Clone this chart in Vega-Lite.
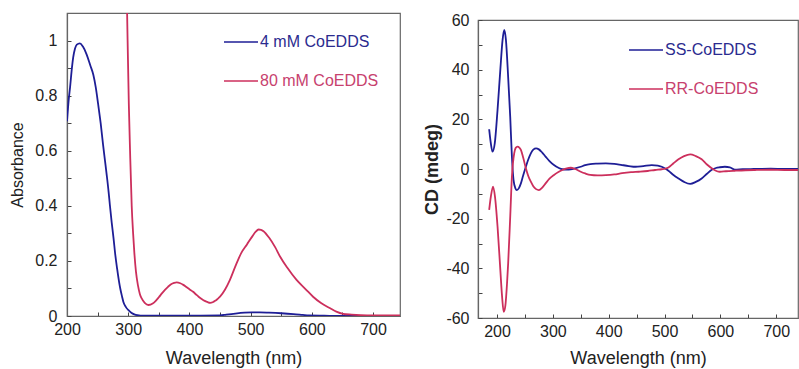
{
  "$schema": "https://vega.github.io/schema/vega-lite/v6.json",
  "padding": {"left": 9, "top": 11, "right": 0, "bottom": 0},
  "background": "white",
  "spacing": 22,
  "config": {
    "font": "Liberation Sans",
    "view": {"stroke": "#666", "strokeWidth": 1.2},
    "axis": {
      "grid": false,
      "labelFontSize": 16,
      "labelColor": "#222",
      "titleColor": "#222",
      "domainColor": "#666",
      "domainWidth": 1.2,
      "tickColor": "#444",
      "tickSize": -4,
      "labelFlush": false,
      "labelOverlap": false
    },
    "legend": {"padding": 0}
  },
  "datasets": {
    "abs": [
      {"wavelength": 200, "absorbance": 0.707, "sample": "4 mM CoEDDS"},
      {"wavelength": 203, "absorbance": 0.79, "sample": "4 mM CoEDDS"},
      {"wavelength": 205, "absorbance": 0.83, "sample": "4 mM CoEDDS"},
      {"wavelength": 208, "absorbance": 0.9, "sample": "4 mM CoEDDS"},
      {"wavelength": 210, "absorbance": 0.937, "sample": "4 mM CoEDDS"},
      {"wavelength": 213, "absorbance": 0.97, "sample": "4 mM CoEDDS"},
      {"wavelength": 216, "absorbance": 0.985, "sample": "4 mM CoEDDS"},
      {"wavelength": 221, "absorbance": 0.99, "sample": "4 mM CoEDDS"},
      {"wavelength": 226, "absorbance": 0.978, "sample": "4 mM CoEDDS"},
      {"wavelength": 232, "absorbance": 0.95, "sample": "4 mM CoEDDS"},
      {"wavelength": 238, "absorbance": 0.91, "sample": "4 mM CoEDDS"},
      {"wavelength": 243, "absorbance": 0.876, "sample": "4 mM CoEDDS"},
      {"wavelength": 247, "absorbance": 0.83, "sample": "4 mM CoEDDS"},
      {"wavelength": 251, "absorbance": 0.767, "sample": "4 mM CoEDDS"},
      {"wavelength": 255, "absorbance": 0.7, "sample": "4 mM CoEDDS"},
      {"wavelength": 259, "absorbance": 0.62, "sample": "4 mM CoEDDS"},
      {"wavelength": 262, "absorbance": 0.565, "sample": "4 mM CoEDDS"},
      {"wavelength": 265, "absorbance": 0.51, "sample": "4 mM CoEDDS"},
      {"wavelength": 268, "absorbance": 0.45, "sample": "4 mM CoEDDS"},
      {"wavelength": 270, "absorbance": 0.404, "sample": "4 mM CoEDDS"},
      {"wavelength": 273, "absorbance": 0.34, "sample": "4 mM CoEDDS"},
      {"wavelength": 276, "absorbance": 0.283, "sample": "4 mM CoEDDS"},
      {"wavelength": 279, "absorbance": 0.22, "sample": "4 mM CoEDDS"},
      {"wavelength": 282, "absorbance": 0.17, "sample": "4 mM CoEDDS"},
      {"wavelength": 285, "absorbance": 0.125, "sample": "4 mM CoEDDS"},
      {"wavelength": 287, "absorbance": 0.1, "sample": "4 mM CoEDDS"},
      {"wavelength": 290, "absorbance": 0.07, "sample": "4 mM CoEDDS"},
      {"wavelength": 292, "absorbance": 0.052, "sample": "4 mM CoEDDS"},
      {"wavelength": 296, "absorbance": 0.033, "sample": "4 mM CoEDDS"},
      {"wavelength": 300, "absorbance": 0.022, "sample": "4 mM CoEDDS"},
      {"wavelength": 305, "absorbance": 0.012, "sample": "4 mM CoEDDS"},
      {"wavelength": 310, "absorbance": 0.006, "sample": "4 mM CoEDDS"},
      {"wavelength": 315, "absorbance": 0.003, "sample": "4 mM CoEDDS"},
      {"wavelength": 325, "absorbance": 0.001, "sample": "4 mM CoEDDS"},
      {"wavelength": 350, "absorbance": 0.001, "sample": "4 mM CoEDDS"},
      {"wavelength": 400, "absorbance": 0.001, "sample": "4 mM CoEDDS"},
      {"wavelength": 450, "absorbance": 0.002, "sample": "4 mM CoEDDS"},
      {"wavelength": 460, "absorbance": 0.005, "sample": "4 mM CoEDDS"},
      {"wavelength": 475, "absorbance": 0.009, "sample": "4 mM CoEDDS"},
      {"wavelength": 490, "absorbance": 0.012, "sample": "4 mM CoEDDS"},
      {"wavelength": 502, "absorbance": 0.013, "sample": "4 mM CoEDDS"},
      {"wavelength": 515, "absorbance": 0.013, "sample": "4 mM CoEDDS"},
      {"wavelength": 530, "absorbance": 0.012, "sample": "4 mM CoEDDS"},
      {"wavelength": 550, "absorbance": 0.01, "sample": "4 mM CoEDDS"},
      {"wavelength": 570, "absorbance": 0.007, "sample": "4 mM CoEDDS"},
      {"wavelength": 585, "absorbance": 0.004, "sample": "4 mM CoEDDS"},
      {"wavelength": 595, "absorbance": 0.002, "sample": "4 mM CoEDDS"},
      {"wavelength": 620, "absorbance": 0.001, "sample": "4 mM CoEDDS"},
      {"wavelength": 650, "absorbance": 0.0, "sample": "4 mM CoEDDS"},
      {"wavelength": 700, "absorbance": 0.0, "sample": "4 mM CoEDDS"},
      {"wavelength": 744, "absorbance": 0.0, "sample": "4 mM CoEDDS"},
      {"wavelength": 297, "absorbance": 1.25, "sample": "80 mM CoEDDS"},
      {"wavelength": 299, "absorbance": 1.0, "sample": "80 mM CoEDDS"},
      {"wavelength": 301, "absorbance": 0.77, "sample": "80 mM CoEDDS"},
      {"wavelength": 303, "absorbance": 0.6, "sample": "80 mM CoEDDS"},
      {"wavelength": 305.7, "absorbance": 0.4, "sample": "80 mM CoEDDS"},
      {"wavelength": 308, "absorbance": 0.3, "sample": "80 mM CoEDDS"},
      {"wavelength": 310, "absorbance": 0.23, "sample": "80 mM CoEDDS"},
      {"wavelength": 312.7, "absorbance": 0.16, "sample": "80 mM CoEDDS"},
      {"wavelength": 316, "absorbance": 0.11, "sample": "80 mM CoEDDS"},
      {"wavelength": 319, "absorbance": 0.08, "sample": "80 mM CoEDDS"},
      {"wavelength": 322, "absorbance": 0.064, "sample": "80 mM CoEDDS"},
      {"wavelength": 327, "absorbance": 0.048, "sample": "80 mM CoEDDS"},
      {"wavelength": 333, "absorbance": 0.04, "sample": "80 mM CoEDDS"},
      {"wavelength": 340, "absorbance": 0.045, "sample": "80 mM CoEDDS"},
      {"wavelength": 345, "absorbance": 0.055, "sample": "80 mM CoEDDS"},
      {"wavelength": 350, "absorbance": 0.068, "sample": "80 mM CoEDDS"},
      {"wavelength": 355, "absorbance": 0.082, "sample": "80 mM CoEDDS"},
      {"wavelength": 360, "absorbance": 0.095, "sample": "80 mM CoEDDS"},
      {"wavelength": 365, "absorbance": 0.106, "sample": "80 mM CoEDDS"},
      {"wavelength": 370, "absorbance": 0.115, "sample": "80 mM CoEDDS"},
      {"wavelength": 375, "absorbance": 0.12, "sample": "80 mM CoEDDS"},
      {"wavelength": 379, "absorbance": 0.122, "sample": "80 mM CoEDDS"},
      {"wavelength": 385, "absorbance": 0.119, "sample": "80 mM CoEDDS"},
      {"wavelength": 390, "absorbance": 0.113, "sample": "80 mM CoEDDS"},
      {"wavelength": 395, "absorbance": 0.105, "sample": "80 mM CoEDDS"},
      {"wavelength": 400, "absorbance": 0.097, "sample": "80 mM CoEDDS"},
      {"wavelength": 406, "absorbance": 0.088, "sample": "80 mM CoEDDS"},
      {"wavelength": 410, "absorbance": 0.08, "sample": "80 mM CoEDDS"},
      {"wavelength": 415, "absorbance": 0.07, "sample": "80 mM CoEDDS"},
      {"wavelength": 420, "absorbance": 0.062, "sample": "80 mM CoEDDS"},
      {"wavelength": 425, "absorbance": 0.055, "sample": "80 mM CoEDDS"},
      {"wavelength": 430, "absorbance": 0.05, "sample": "80 mM CoEDDS"},
      {"wavelength": 434, "absorbance": 0.048, "sample": "80 mM CoEDDS"},
      {"wavelength": 438, "absorbance": 0.05, "sample": "80 mM CoEDDS"},
      {"wavelength": 442, "absorbance": 0.055, "sample": "80 mM CoEDDS"},
      {"wavelength": 446, "absorbance": 0.062, "sample": "80 mM CoEDDS"},
      {"wavelength": 450, "absorbance": 0.07, "sample": "80 mM CoEDDS"},
      {"wavelength": 458, "absorbance": 0.095, "sample": "80 mM CoEDDS"},
      {"wavelength": 466, "absorbance": 0.13, "sample": "80 mM CoEDDS"},
      {"wavelength": 475, "absorbance": 0.18, "sample": "80 mM CoEDDS"},
      {"wavelength": 485, "absorbance": 0.23, "sample": "80 mM CoEDDS"},
      {"wavelength": 494, "absorbance": 0.26, "sample": "80 mM CoEDDS"},
      {"wavelength": 503, "absorbance": 0.29, "sample": "80 mM CoEDDS"},
      {"wavelength": 508, "absorbance": 0.305, "sample": "80 mM CoEDDS"},
      {"wavelength": 513, "absorbance": 0.314, "sample": "80 mM CoEDDS"},
      {"wavelength": 517, "absorbance": 0.313, "sample": "80 mM CoEDDS"},
      {"wavelength": 521, "absorbance": 0.308, "sample": "80 mM CoEDDS"},
      {"wavelength": 530, "absorbance": 0.285, "sample": "80 mM CoEDDS"},
      {"wavelength": 540, "absorbance": 0.25, "sample": "80 mM CoEDDS"},
      {"wavelength": 548, "absorbance": 0.216, "sample": "80 mM CoEDDS"},
      {"wavelength": 560, "absorbance": 0.175, "sample": "80 mM CoEDDS"},
      {"wavelength": 575, "absorbance": 0.131, "sample": "80 mM CoEDDS"},
      {"wavelength": 590, "absorbance": 0.097, "sample": "80 mM CoEDDS"},
      {"wavelength": 602, "absorbance": 0.07, "sample": "80 mM CoEDDS"},
      {"wavelength": 615, "absorbance": 0.047, "sample": "80 mM CoEDDS"},
      {"wavelength": 630, "absorbance": 0.028, "sample": "80 mM CoEDDS"},
      {"wavelength": 640, "absorbance": 0.016, "sample": "80 mM CoEDDS"},
      {"wavelength": 651, "absorbance": 0.008, "sample": "80 mM CoEDDS"},
      {"wavelength": 665, "absorbance": 0.005, "sample": "80 mM CoEDDS"},
      {"wavelength": 680, "absorbance": 0.003, "sample": "80 mM CoEDDS"},
      {"wavelength": 700, "absorbance": 0.002, "sample": "80 mM CoEDDS"},
      {"wavelength": 720, "absorbance": 0.002, "sample": "80 mM CoEDDS"},
      {"wavelength": 744, "absorbance": 0.002, "sample": "80 mM CoEDDS"}
    ],
    "cd": [
      {"wavelength": 186, "cd": 16, "isomer": "SS-CoEDDS"},
      {"wavelength": 189, "cd": 10.3, "isomer": "SS-CoEDDS"},
      {"wavelength": 192, "cd": 7, "isomer": "SS-CoEDDS"},
      {"wavelength": 196, "cd": 10.3, "isomer": "SS-CoEDDS"},
      {"wavelength": 201, "cd": 23.8, "isomer": "SS-CoEDDS"},
      {"wavelength": 206, "cd": 40, "isomer": "SS-CoEDDS"},
      {"wavelength": 210, "cd": 52, "isomer": "SS-CoEDDS"},
      {"wavelength": 213, "cd": 56, "isomer": "SS-CoEDDS"},
      {"wavelength": 216, "cd": 52, "isomer": "SS-CoEDDS"},
      {"wavelength": 220, "cd": 37, "isomer": "SS-CoEDDS"},
      {"wavelength": 223.7, "cd": 21, "isomer": "SS-CoEDDS"},
      {"wavelength": 226.7, "cd": 5, "isomer": "SS-CoEDDS"},
      {"wavelength": 229.6, "cd": -4.4, "isomer": "SS-CoEDDS"},
      {"wavelength": 233, "cd": -7.8, "isomer": "SS-CoEDDS"},
      {"wavelength": 235.6, "cd": -8.5, "isomer": "SS-CoEDDS"},
      {"wavelength": 239, "cd": -7.8, "isomer": "SS-CoEDDS"},
      {"wavelength": 242.8, "cd": -5.8, "isomer": "SS-CoEDDS"},
      {"wavelength": 247, "cd": -2.5, "isomer": "SS-CoEDDS"},
      {"wavelength": 251.7, "cd": 0.9, "isomer": "SS-CoEDDS"},
      {"wavelength": 256, "cd": 3.8, "isomer": "SS-CoEDDS"},
      {"wavelength": 260.6, "cd": 6.3, "isomer": "SS-CoEDDS"},
      {"wavelength": 265, "cd": 7.8, "isomer": "SS-CoEDDS"},
      {"wavelength": 270, "cd": 8.3, "isomer": "SS-CoEDDS"},
      {"wavelength": 275, "cd": 7.9, "isomer": "SS-CoEDDS"},
      {"wavelength": 281, "cd": 6.6, "isomer": "SS-CoEDDS"},
      {"wavelength": 287, "cd": 5, "isomer": "SS-CoEDDS"},
      {"wavelength": 294, "cd": 3.2, "isomer": "SS-CoEDDS"},
      {"wavelength": 302, "cd": 1.6, "isomer": "SS-CoEDDS"},
      {"wavelength": 310, "cd": 0.5, "isomer": "SS-CoEDDS"},
      {"wavelength": 317, "cd": -0.1, "isomer": "SS-CoEDDS"},
      {"wavelength": 325, "cd": -0.2, "isomer": "SS-CoEDDS"},
      {"wavelength": 332, "cd": -0.1, "isomer": "SS-CoEDDS"},
      {"wavelength": 340, "cd": 0.3, "isomer": "SS-CoEDDS"},
      {"wavelength": 350, "cd": 0.9, "isomer": "SS-CoEDDS"},
      {"wavelength": 358, "cd": 1.6, "isomer": "SS-CoEDDS"},
      {"wavelength": 367, "cd": 2.0, "isomer": "SS-CoEDDS"},
      {"wavelength": 380, "cd": 2.2, "isomer": "SS-CoEDDS"},
      {"wavelength": 395, "cd": 2.3, "isomer": "SS-CoEDDS"},
      {"wavelength": 410, "cd": 2.1, "isomer": "SS-CoEDDS"},
      {"wavelength": 424, "cd": 1.6, "isomer": "SS-CoEDDS"},
      {"wavelength": 436, "cd": 1.2, "isomer": "SS-CoEDDS"},
      {"wavelength": 448, "cd": 0.9, "isomer": "SS-CoEDDS"},
      {"wavelength": 462, "cd": 1.2, "isomer": "SS-CoEDDS"},
      {"wavelength": 477, "cd": 1.6, "isomer": "SS-CoEDDS"},
      {"wavelength": 488, "cd": 1.4, "isomer": "SS-CoEDDS"},
      {"wavelength": 495, "cd": 0.9, "isomer": "SS-CoEDDS"},
      {"wavelength": 501, "cd": 0.2, "isomer": "SS-CoEDDS"},
      {"wavelength": 507, "cd": -0.7, "isomer": "SS-CoEDDS"},
      {"wavelength": 516, "cd": -2.4, "isomer": "SS-CoEDDS"},
      {"wavelength": 525, "cd": -3.8, "isomer": "SS-CoEDDS"},
      {"wavelength": 535, "cd": -5.2, "isomer": "SS-CoEDDS"},
      {"wavelength": 546, "cd": -6.0, "isomer": "SS-CoEDDS"},
      {"wavelength": 556, "cd": -5.2, "isomer": "SS-CoEDDS"},
      {"wavelength": 566.5, "cd": -3.8, "isomer": "SS-CoEDDS"},
      {"wavelength": 576, "cd": -1.9, "isomer": "SS-CoEDDS"},
      {"wavelength": 584, "cd": -0.4, "isomer": "SS-CoEDDS"},
      {"wavelength": 592, "cd": 0.4, "isomer": "SS-CoEDDS"},
      {"wavelength": 599, "cd": 0.7, "isomer": "SS-CoEDDS"},
      {"wavelength": 608, "cd": 0.9, "isomer": "SS-CoEDDS"},
      {"wavelength": 617, "cd": 0.7, "isomer": "SS-CoEDDS"},
      {"wavelength": 626, "cd": -0.3, "isomer": "SS-CoEDDS"},
      {"wavelength": 640, "cd": -0.1, "isomer": "SS-CoEDDS"},
      {"wavelength": 660, "cd": 0, "isomer": "SS-CoEDDS"},
      {"wavelength": 690, "cd": 0.1, "isomer": "SS-CoEDDS"},
      {"wavelength": 715, "cd": 0, "isomer": "SS-CoEDDS"},
      {"wavelength": 739, "cd": 0, "isomer": "SS-CoEDDS"},
      {"wavelength": 186, "cd": -16.5, "isomer": "RR-CoEDDS"},
      {"wavelength": 189, "cd": -11.1, "isomer": "RR-CoEDDS"},
      {"wavelength": 193, "cd": -7.1, "isomer": "RR-CoEDDS"},
      {"wavelength": 196.4, "cd": -11.1, "isomer": "RR-CoEDDS"},
      {"wavelength": 201, "cd": -23.2, "isomer": "RR-CoEDDS"},
      {"wavelength": 206, "cd": -40.7, "isomer": "RR-CoEDDS"},
      {"wavelength": 209, "cd": -51, "isomer": "RR-CoEDDS"},
      {"wavelength": 212, "cd": -57.5, "isomer": "RR-CoEDDS"},
      {"wavelength": 215, "cd": -55, "isomer": "RR-CoEDDS"},
      {"wavelength": 218, "cd": -46, "isomer": "RR-CoEDDS"},
      {"wavelength": 220, "cd": -38, "isomer": "RR-CoEDDS"},
      {"wavelength": 223.7, "cd": -19.2, "isomer": "RR-CoEDDS"},
      {"wavelength": 226.7, "cd": -3.1, "isomer": "RR-CoEDDS"},
      {"wavelength": 230.8, "cd": 6.3, "isomer": "RR-CoEDDS"},
      {"wavelength": 233.5, "cd": 8.5, "isomer": "RR-CoEDDS"},
      {"wavelength": 236.7, "cd": 9.0, "isomer": "RR-CoEDDS"},
      {"wavelength": 240, "cd": 8.6, "isomer": "RR-CoEDDS"},
      {"wavelength": 242.8, "cd": 7.7, "isomer": "RR-CoEDDS"},
      {"wavelength": 247, "cd": 4.5, "isomer": "RR-CoEDDS"},
      {"wavelength": 251.7, "cd": 0.3, "isomer": "RR-CoEDDS"},
      {"wavelength": 256, "cd": -2.8, "isomer": "RR-CoEDDS"},
      {"wavelength": 260.6, "cd": -5.1, "isomer": "RR-CoEDDS"},
      {"wavelength": 265, "cd": -6.9, "isomer": "RR-CoEDDS"},
      {"wavelength": 270, "cd": -8.1, "isomer": "RR-CoEDDS"},
      {"wavelength": 275, "cd": -8.5, "isomer": "RR-CoEDDS"},
      {"wavelength": 281, "cd": -7.5, "isomer": "RR-CoEDDS"},
      {"wavelength": 287, "cd": -5.8, "isomer": "RR-CoEDDS"},
      {"wavelength": 294, "cd": -3.9, "isomer": "RR-CoEDDS"},
      {"wavelength": 302, "cd": -2.4, "isomer": "RR-CoEDDS"},
      {"wavelength": 310, "cd": -1.2, "isomer": "RR-CoEDDS"},
      {"wavelength": 317, "cd": -0.4, "isomer": "RR-CoEDDS"},
      {"wavelength": 325, "cd": 0.3, "isomer": "RR-CoEDDS"},
      {"wavelength": 332, "cd": 0.5, "isomer": "RR-CoEDDS"},
      {"wavelength": 340, "cd": 0, "isomer": "RR-CoEDDS"},
      {"wavelength": 350, "cd": -1.1, "isomer": "RR-CoEDDS"},
      {"wavelength": 358, "cd": -1.8, "isomer": "RR-CoEDDS"},
      {"wavelength": 367, "cd": -2.4, "isomer": "RR-CoEDDS"},
      {"wavelength": 380, "cd": -2.6, "isomer": "RR-CoEDDS"},
      {"wavelength": 395, "cd": -2.5, "isomer": "RR-CoEDDS"},
      {"wavelength": 410, "cd": -2.2, "isomer": "RR-CoEDDS"},
      {"wavelength": 424, "cd": -1.7, "isomer": "RR-CoEDDS"},
      {"wavelength": 440, "cd": -1.3, "isomer": "RR-CoEDDS"},
      {"wavelength": 454, "cd": -1.1, "isomer": "RR-CoEDDS"},
      {"wavelength": 470, "cd": -0.8, "isomer": "RR-CoEDDS"},
      {"wavelength": 483, "cd": -0.4, "isomer": "RR-CoEDDS"},
      {"wavelength": 495, "cd": -0.1, "isomer": "RR-CoEDDS"},
      {"wavelength": 501, "cd": 0.1, "isomer": "RR-CoEDDS"},
      {"wavelength": 507, "cd": 0.6, "isomer": "RR-CoEDDS"},
      {"wavelength": 516, "cd": 2.3, "isomer": "RR-CoEDDS"},
      {"wavelength": 525, "cd": 3.9, "isomer": "RR-CoEDDS"},
      {"wavelength": 535, "cd": 5.2, "isomer": "RR-CoEDDS"},
      {"wavelength": 546, "cd": 5.9, "isomer": "RR-CoEDDS"},
      {"wavelength": 556, "cd": 5.2, "isomer": "RR-CoEDDS"},
      {"wavelength": 566.5, "cd": 3.9, "isomer": "RR-CoEDDS"},
      {"wavelength": 576, "cd": 1.8, "isomer": "RR-CoEDDS"},
      {"wavelength": 587, "cd": -0.1, "isomer": "RR-CoEDDS"},
      {"wavelength": 594, "cd": -0.9, "isomer": "RR-CoEDDS"},
      {"wavelength": 599, "cd": -1.1, "isomer": "RR-CoEDDS"},
      {"wavelength": 610, "cd": -0.9, "isomer": "RR-CoEDDS"},
      {"wavelength": 626, "cd": -0.7, "isomer": "RR-CoEDDS"},
      {"wavelength": 645, "cd": -0.5, "isomer": "RR-CoEDDS"},
      {"wavelength": 662, "cd": -0.4, "isomer": "RR-CoEDDS"},
      {"wavelength": 690, "cd": -0.3, "isomer": "RR-CoEDDS"},
      {"wavelength": 715, "cd": -0.4, "isomer": "RR-CoEDDS"},
      {"wavelength": 739, "cd": -0.4, "isomer": "RR-CoEDDS"}
    ]
  },
  "resolve": {"scale": {"color": "independent"}, "legend": {"color": "independent"}},
  "hconcat": [
    {
      "width": 333,
      "height": 303,
      "data": {"name": "abs"},
      "mark": {"type": "line", "strokeWidth": 1.8, "clip": true, "interpolate": "monotone"},
      "encoding": {
        "x": {
          "field": "wavelength", "type": "quantitative",
          "scale": {"domain": [200, 744], "nice": false, "zero": false},
          "axis": {
            "title": "Wavelength (nm)",
            "values": [200, 250, 300, 350, 400, 450, 500, 550, 600, 650, 700],
            "labelExpr": "datum.value % 100 === 0 ? datum.label : ''",
            "labelPadding": 9,
            "titleFontSize": 18,
            "titleFontWeight": "normal",
            "titlePadding": 12
          }
        },
        "y": {
          "field": "absorbance", "type": "quantitative",
          "scale": {"domain": [0, 1.1], "nice": false},
          "axis": {
            "title": "Absorbance",
            "values": [0, 0.1, 0.2, 0.3, 0.4, 0.5, 0.6, 0.7, 0.8, 0.9, 1.0],
            "labelExpr": "round(datum.value * 10) % 2 === 0 ? format(datum.value, '~g') : ''",
            "labelPadding": 14,
            "titleFontSize": 16,
            "titleFontWeight": "normal",
            "titlePadding": 9
          }
        },
        "color": {
          "field": "sample", "type": "nominal",
          "scale": {"domain": ["4 mM CoEDDS", "80 mM CoEDDS"], "range": ["#1e1e96", "#cc2f5c"]},
          "legend": {
            "title": null,
            "orient": "none",
            "legendX": 156,
            "legendY": 11,
            "symbolType": "stroke",
            "symbolSize": 1156,
            "symbolStrokeWidth": 1.5,
            "labelFontSize": 16,
            "labelOffset": 1,
            "rowPadding": 13,
            "encode": {"labels": {"update": {"fill": {"signal": "datum.label === '4 mM CoEDDS' ? '#2b2b8f' : '#c7416e'"}}}}
          }
        }
      }
    },
    {
      "bounds": "flush",
      "spacing": 6,
      "vconcat": [
        {
          "width": 320,
          "height": 1,
          "view": {"stroke": null},
          "data": {"values": []},
          "mark": {"type": "rule"},
          "encoding": {}
        },
        {
          "width": 320,
          "height": 298,
          "data": {"name": "cd"},
          "mark": {"type": "line", "strokeWidth": 1.8, "clip": true, "interpolate": "monotone"},
          "encoding": {
            "x": {
              "field": "wavelength", "type": "quantitative",
              "scale": {"domain": [166, 739], "nice": false, "zero": false},
              "axis": {
                "title": "Wavelength (nm)",
                "values": [200, 250, 300, 350, 400, 450, 500, 550, 600, 650, 700],
                "labelExpr": "datum.value % 100 === 0 ? datum.label : ''",
                "labelPadding": 9,
                "titleFontSize": 18,
                "titleFontWeight": "normal",
                "titlePadding": 10
              }
            },
            "y": {
              "field": "cd", "type": "quantitative",
              "scale": {"domain": [-60, 60], "nice": false},
              "axis": {
                "title": "CD (mdeg)",
                "values": [-60, -50, -40, -30, -20, -10, 0, 10, 20, 30, 40, 50, 60],
                "labelExpr": "datum.value % 20 === 0 ? '' + datum.value : ''",
                "labelPadding": 13,
                "titleFontSize": 18,
                "titleFontWeight": "bold",
                "titlePadding": 4
              }
            },
            "color": {
              "field": "isomer", "type": "nominal",
              "scale": {"domain": ["SS-CoEDDS", "RR-CoEDDS"], "range": ["#1e1e96", "#cc2f5c"]},
              "legend": {
                "title": null,
                "orient": "none",
                "legendX": 150,
                "legendY": 19,
                "symbolType": "stroke",
                "symbolSize": 1156,
                "symbolStrokeWidth": 1.5,
                "labelFontSize": 16,
                "labelOffset": 1,
                "rowPadding": 13,
                "encode": {"labels": {"update": {"fill": {"signal": "datum.label === 'SS-CoEDDS' ? '#2b2b8f' : '#c7416e'"}}}}
              }
            }
          }
        }
      ]
    }
  ]
}
